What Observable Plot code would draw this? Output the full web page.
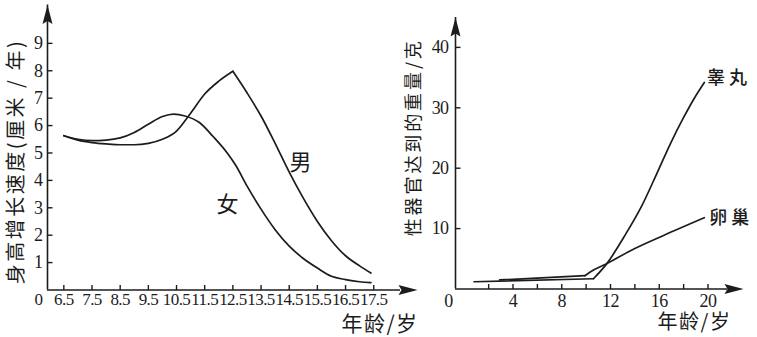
<!DOCTYPE html>
<html><head><meta charset="utf-8">
<script src="https://cdn.jsdelivr.net/npm/d3@7"></script>
<script src="https://cdn.jsdelivr.net/npm/@observablehq/plot@0.6"></script>
<style>
body{margin:0;background:#fff;}
#wrap{position:relative;width:757px;height:337px;overflow:hidden;background:#fff;}
#wrap svg{position:absolute;top:0;}
</style></head><body><div id="wrap"></div>
<script>
// ---- Left panel: height growth rate (cm / year) ----
const heightTicksX = [6.5, 7.5, 8.5, 9.5, 10.5, 11.5, 12.5, 13.5, 14.5, 15.5, 16.5, 17.5];
const heightTicksY = [1, 2, 3, 4, 5, 6, 7, 8, 9];
const girlAge  = [6.5, 7, 7.5, 8, 8.5, 9, 9.5, 10, 10.4, 10.8, 11.3, 11.8, 12.3, 12.6, 13, 13.5, 14, 14.5, 15, 15.5, 16, 16.5, 17, 17.4];
const girlRate = [5.63, 5.5, 5.45, 5.47, 5.55, 5.75, 6.05, 6.33, 6.42, 6.35, 6.12, 5.6, 5.0, 4.55, 3.8, 2.95, 2.2, 1.6, 1.15, 0.8, 0.5, 0.38, 0.3, 0.27];
const boyAge   = [6.5, 7, 7.5, 8, 8.5, 9, 9.5, 10, 10.5, 11, 11.5, 12, 12.5, 13, 13.5, 14, 14.5, 15, 15.5, 16, 16.5, 17, 17.4];
const boyRate  = [5.63, 5.47, 5.38, 5.33, 5.3, 5.3, 5.35, 5.5, 5.8, 6.45, 7.15, 7.62, 7.98, 7.2, 6.35, 5.35, 4.3, 3.35, 2.5, 1.8, 1.25, 0.88, 0.62];
const heightYTitle = "身高增长速度(厘米 / 年)";
const ageTitle = "年龄/岁";

// ---- Right panel: organ weight (g) ----
const organTicksX = [2, 4, 6, 8, 10, 12, 14, 16, 18, 20];
const organLabelsX = [4, 8, 12, 16, 20];
const organTicksY = [10, 20, 30, 40];
const testisAge    = [0.8, 10.6, 11.7, 13.1, 14.5, 15.8, 16.9, 18.0, 19.0, 19.7];
const testisWeight = [1.2, 1.7, 4.2, 8.6, 13.5, 19.1, 24.0, 28.4, 32.0, 34.2];
const ovaryAge     = [2.9, 9.9, 10.4, 11.6, 13.6, 16.4, 19.7];
const ovaryWeight  = [1.5, 2.2, 2.9, 4.1, 6.3, 8.9, 11.8];
const organYTitle = "性器官达到的重量/克";

const INK = "#1c1c1c";
const SERIF = "Liberation Serif, Times New Roman, serif";
const CJK = "Noto Sans CJK SC, sans-serif";

// split a series at a corner index into two smooth pieces
function pieces(xs, ys, cornerIndex, name) {
  const rows = xs.map((x, i) => ({x, y: ys[i]}));
  if (cornerIndex == null) return rows.map(d => ({...d, seg: name}));
  return [
    ...rows.slice(0, cornerIndex + 1).map(d => ({...d, seg: name + "-a"})),
    ...rows.slice(cornerIndex).map(d => ({...d, seg: name + "-b"}))
  ];
}
const boyPeak = boyRate.indexOf(Math.max(...boyRate));

const arrowUp = {draw(c) { c.moveTo(0, 0); c.lineTo(5, 19); c.lineTo(0, 16); c.lineTo(-5, 19); c.closePath(); }};
const arrowRight = {draw(c) { c.moveTo(0, 0); c.lineTo(-19, -5); c.lineTo(-16, 0); c.lineTo(-19, 5); c.closePath(); }};
const tickRight = {draw(c) { c.moveTo(0, 0); c.lineTo(5, 0); }};
const tickUp = {draw(c) { c.moveTo(0, 0); c.lineTo(0, -5); }};

const baseStyle = {background: "transparent", overflow: "visible", fontFamily: SERIF, color: INK};
const mid = {textAnchor: "middle", lineAnchor: "middle"};

// ---------- left chart ----------
const hx = [5.92, 18.45];
const left = Plot.plot({
  width: 430, height: 337,
  marginLeft: 47, marginRight: 30, marginTop: 4.5, marginBottom: 47.5,
  x: {domain: hx, axis: null},
  y: {domain: [0, 10.4], axis: null},
  style: baseStyle,
  marks: [
    Plot.ruleX([hx[0]], {stroke: INK, strokeWidth: 1.6}),
    Plot.ruleY([0], {stroke: INK, strokeWidth: 1.6}),
    Plot.dot([0], {frameAnchor: "top-left", symbol: arrowUp, fill: INK, stroke: "none"}),
    Plot.dot([0], {frameAnchor: "bottom-right", dx: 17, symbol: arrowRight, fill: INK, stroke: "none"}),
    Plot.dot(heightTicksY, {y: d => d, frameAnchor: "left", symbol: tickRight, fill: "none", stroke: INK, strokeWidth: 1.4}),
    Plot.dot(heightTicksX, {x: d => d, frameAnchor: "bottom", symbol: tickUp, fill: "none", stroke: INK, strokeWidth: 1.4}),
    Plot.text(heightTicksY, {y: d => d, text: d => String(d), frameAnchor: "left", dx: -5, textAnchor: "end", lineAnchor: "middle", fontSize: 18, fill: INK}),
    Plot.text(heightTicksX, {x: d => d, text: d => String(d), frameAnchor: "bottom", dy: 9.5, ...mid, fontSize: 17, fill: INK}),
    Plot.text(["0"], {text: d => d, frameAnchor: "bottom-left", dx: -9, dy: 9.5, ...mid, fontSize: 17, fill: INK}),
    Plot.line(pieces(girlAge, girlRate, null, "girl"), {x: "x", y: "y", z: "seg", curve: "monotone-x", stroke: INK, strokeWidth: 1.7}),
    Plot.line(pieces(boyAge, boyRate, boyPeak, "boy"), {x: "x", y: "y", z: "seg", curve: "monotone-x", stroke: INK, strokeWidth: 1.7}),
    Plot.text(["男"], {x: 14.9, y: 4.62, text: d => d, ...mid, fontFamily: CJK, fontSize: 22, fill: INK}),
    Plot.text(["女"], {x: 12.31, y: 3.12, text: d => d, ...mid, fontFamily: CJK, fontSize: 22, fill: INK}),
    Plot.text([heightYTitle], {text: d => d, frameAnchor: "left", rotate: -90, dx: -31, dy: 14, ...mid, fontFamily: CJK, fontSize: 20, fill: INK}),
    Plot.text([ageTitle], {text: d => d, frameAnchor: "bottom-right", dx: -20.5, dy: 34.5, ...mid, fontFamily: CJK, fontSize: 21, fill: INK})
  ]
});

// ---------- right chart ----------
const ox = [-0.72, 21.6];
const right = Plot.plot({
  width: 357, height: 337,
  marginLeft: 55, marginRight: 30, marginTop: 17, marginBottom: 48.5,
  x: {domain: ox, axis: null},
  y: {domain: [0, 44.95], axis: null},
  style: baseStyle,
  marks: [
    Plot.ruleX([ox[0]], {stroke: INK, strokeWidth: 1.6}),
    Plot.ruleY([0], {stroke: INK, strokeWidth: 1.6}),
    Plot.dot([0], {frameAnchor: "top-left", symbol: arrowUp, fill: INK, stroke: "none"}),
    Plot.dot([0], {frameAnchor: "bottom-right", dx: 16, symbol: arrowRight, fill: INK, stroke: "none"}),
    Plot.dot(organTicksY, {y: d => d, frameAnchor: "left", symbol: tickRight, fill: "none", stroke: INK, strokeWidth: 1.4}),
    Plot.dot(organTicksX, {x: d => d, frameAnchor: "bottom", symbol: tickUp, fill: "none", stroke: INK, strokeWidth: 1.4}),
    Plot.text(organTicksY, {y: d => d, text: d => String(d), frameAnchor: "left", dx: -7, textAnchor: "end", lineAnchor: "middle", fontSize: 18, fill: INK}),
    Plot.text(organLabelsX, {x: d => d, text: d => String(d), frameAnchor: "bottom", dy: 12.5, ...mid, fontSize: 18, fill: INK}),
    Plot.text(["0"], {text: d => d, frameAnchor: "bottom-left", dx: -7, dy: 12.5, ...mid, fontSize: 18, fill: INK}),
    Plot.line(pieces(testisAge, testisWeight, 1, "testis"), {x: "x", y: "y", z: "seg", curve: "monotone-x", stroke: INK, strokeWidth: 1.7}),
    Plot.line(pieces(ovaryAge, ovaryWeight, 1, "ovary"), {x: "x", y: "y", z: "seg", curve: "monotone-x", stroke: INK, strokeWidth: 1.7}),
    Plot.text(["睾丸"], {x: 21.73, y: 34.85, text: d => d, ...mid, fontFamily: CJK, fontSize: 18, fontWeight: 500, fill: INK}),
    Plot.text(["卵巢"], {x: 21.9, y: 11.67, text: d => d, ...mid, fontFamily: CJK, fontSize: 18, fontWeight: 500, fill: INK}),
    Plot.text([organYTitle], {text: d => d, frameAnchor: "left", rotate: -90, dx: -41, dy: -16, ...mid, fontFamily: CJK, fontSize: 18, fill: INK}),
    Plot.text([ageTitle], {text: d => d, frameAnchor: "bottom-right", dx: -33, dy: 33.5, ...mid, fontFamily: CJK, fontSize: 20, fill: INK})
  ]
});

const wrap = document.getElementById("wrap");
left.style.left = "0px";
right.style.left = "400px";
wrap.appendChild(left);
wrap.appendChild(right);

// letter spacing for the CJK texts
const spacing = {[heightYTitle]: "2.5px", [organYTitle]: "2.9px", [ageTitle]: "1.5px", "睾丸": "4px", "卵巢": "4px"};
const digitSpacing = "-0.6px";
d3.selectAll("#wrap svg text").each(function() {
  const t = this.textContent;
  if (spacing[t]) this.setAttribute("letter-spacing", spacing[t]);
  else if (/^[0-9.]+$/.test(t)) this.setAttribute("letter-spacing", digitSpacing);
});
</script></body></html>
